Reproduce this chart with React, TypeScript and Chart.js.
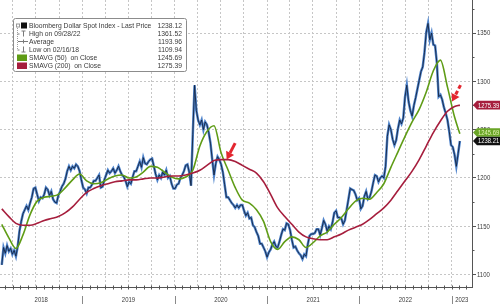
import React, { useEffect, useRef } from "react";
import { Chart, registerables } from "chart.js";

Chart.register(...registerables);

const FONT = '"Liberation Sans", Arial, sans-serif';
const DAY = 86400000;
const WEEK = 7 * DAY;
const SERIES_START = Date.UTC(2018, 1, 16);
const AXIS_MIN = Date.UTC(2018, 1, 9);
const AXIS_MAX = Date.UTC(2023, 2, 23);
const SMA_STEP_WEEKS = 4;
const Y_MIN = 1087.1;
const Y_MAX = 1384.2;

// Bloomberg Dollar Spot Index, weekly closes from 2018-02-16
const priceWeekly = [
  1110, 1128, 1122, 1130, 1124, 1127, 1121, 1125, 1119, 1129,
  1145, 1155, 1163, 1167, 1171, 1167, 1174, 1180, 1189, 1190,
  1183, 1176, 1180, 1179, 1183, 1190, 1188, 1182, 1186, 1178,
  1175, 1174, 1182, 1186, 1191, 1194, 1199, 1207, 1212, 1208,
  1212, 1210, 1214, 1212, 1207, 1198, 1190, 1188, 1184, 1190,
  1190, 1193, 1197, 1197, 1200, 1203, 1190, 1191, 1198, 1203,
  1208, 1205, 1207, 1210, 1205, 1208, 1212, 1207, 1203, 1201,
  1197, 1191, 1196, 1194, 1201, 1207, 1207, 1212, 1217, 1211,
  1221, 1215, 1214, 1217, 1219, 1220, 1212, 1204, 1198, 1203,
  1200, 1206, 1203, 1208, 1200, 1202, 1194, 1189, 1189, 1193,
  1194, 1200, 1203, 1207, 1213, 1214, 1206, 1192, 1245, 1296,
  1270, 1260, 1255, 1260, 1250, 1258, 1255, 1247, 1236, 1219,
  1203, 1215, 1222, 1219, 1214, 1206, 1193, 1180, 1180, 1177,
  1174, 1172, 1169, 1172, 1169, 1172, 1172, 1166, 1161, 1164,
  1158, 1159, 1151, 1149, 1144, 1140, 1132, 1132, 1128, 1124,
  1118, 1123, 1126, 1131, 1134, 1129, 1128, 1134, 1141, 1147,
  1146, 1153, 1152, 1146, 1136, 1128, 1129, 1125, 1122, 1120,
  1116, 1121, 1119, 1131, 1140, 1142, 1142, 1143, 1147, 1147,
  1141, 1148, 1156, 1152, 1145, 1150, 1147, 1154, 1164, 1166,
  1159, 1159, 1158, 1152, 1156, 1167, 1178, 1189, 1188, 1187,
  1183, 1177, 1179, 1168, 1171, 1181, 1186, 1178, 1180, 1186,
  1195, 1203, 1202, 1196, 1200, 1202, 1200, 1212, 1243, 1255,
  1250, 1240, 1234, 1239, 1251, 1260, 1256, 1262, 1284, 1296,
  1279, 1270, 1264, 1275, 1283, 1292, 1301, 1310, 1315, 1330,
  1351, 1360, 1343, 1350, 1338, 1337, 1319, 1284, 1286, 1281,
  1273, 1267, 1260, 1248, 1234, 1232, 1224, 1212, 1225, 1238.21,
];

// SMAVG (50) every 4 weeks, last value on the last price date
const sma50 = [
  1152, 1138, 1127, 1141, 1162, 1176, 1180, 1181, 1183, 1190,
  1198, 1204, 1197, 1194, 1195, 1199, 1202, 1203, 1200, 1201,
  1206, 1212, 1211, 1206, 1201, 1199, 1201, 1208, 1233, 1248,
  1254, 1226, 1208, 1190, 1177, 1174, 1167, 1155, 1134, 1126,
  1134, 1139, 1136, 1128, 1133, 1140, 1144, 1152, 1159, 1168,
  1176, 1179, 1178, 1185, 1194, 1211, 1227, 1243, 1258, 1271,
  1289, 1311, 1322, 1294, 1263, 1245.69,
];

// SMAVG (200) every 4 weeks, last value on the last price date
const sma200 = [
  1168, 1160, 1153, 1151, 1151, 1153, 1156, 1158, 1160, 1164,
  1170, 1178, 1185, 1189, 1192, 1194, 1196, 1197, 1198, 1198,
  1199, 1200, 1200, 1201, 1202, 1202, 1203, 1205, 1208, 1213,
  1218, 1219, 1219, 1217, 1213, 1209, 1205, 1196, 1183, 1169,
  1160, 1152, 1144, 1139, 1137, 1136, 1136, 1139, 1142, 1146,
  1149, 1152, 1157, 1163, 1169, 1177, 1187, 1197, 1207, 1219,
  1233, 1247, 1259, 1269, 1274, 1275.39,
];

const yTicks = [1100, 1150, 1200, 1250, 1300, 1350];
const yMinorTicks = [1125, 1175, 1225, 1275, 1325, 1375];
const years = [2018, 2019, 2020, 2021, 2022, 2023];

const legendRows = [
  { label: "Bloomberg Dollar Spot Index - Last Price", value: "1238.12", icon: "price" },
  { label: "High on 09/28/22", value: "1361.52", icon: "high" },
  { label: "Average", value: "1193.96", icon: "avg" },
  { label: "Low on 02/16/18", value: "1109.94", icon: "low" },
  { label: "SMAVG (50)  on Close", value: "1245.69", icon: "sma50" },
  { label: "SMAVG (200)  on Close", value: "1275.39", icon: "sma200" },
];

const arrowNotes = [
  { date: Date.UTC(2020, 6, 25), value: 1219, dashed: false },
  { date: Date.UTC(2023, 0, 3), value: 1279, dashed: true },
];

const PRICE_BLUE = "#4f84cc";
const PRICE_DARK = "#142542";
const GREEN = "#5f9c16";
const RED = "#a61e3d";
const ARROW = "#e3262f";
const GRID = "#c6c6c6";
const AXIS = "#555555";
const TEXT = "#3a3a3a";

function smaPoints(arr: number[]) {
  const lastWeek = priceWeekly.length - 1;
  return arr.map((v, j) => ({
    x: SERIES_START + (j < arr.length - 1 ? j * SMA_STEP_WEEKS : lastWeek) * WEEK,
    y: v,
  }));
}

function narrowText(
  ctx: CanvasRenderingContext2D,
  text: string,
  x: number,
  y: number,
  align: CanvasTextAlign,
  sx: number
) {
  ctx.save();
  ctx.translate(x, y);
  ctx.scale(sx, 1);
  ctx.textAlign = align;
  ctx.fillText(text, 0, 0);
  ctx.restore();
}

function drawArrow(ctx: CanvasRenderingContext2D, tx: number, ty: number, dashed: boolean) {
  const sx = tx + 8.5;
  const sy = ty - 16.5;
  const ang = Math.atan2(ty - sy, tx - sx);
  const headLen = 7.5;
  const headW = 4.5;
  const bx = tx - headLen * Math.cos(ang);
  const by = ty - headLen * Math.sin(ang);
  ctx.save();
  ctx.strokeStyle = ARROW;
  ctx.fillStyle = ARROW;
  ctx.lineWidth = 3;
  ctx.setLineDash(dashed ? [4, 2.5] : []);
  ctx.beginPath();
  ctx.moveTo(sx, sy);
  ctx.lineTo(bx, by);
  ctx.stroke();
  ctx.setLineDash([]);
  ctx.beginPath();
  ctx.moveTo(tx, ty);
  ctx.lineTo(bx + headW * Math.sin(ang), by - headW * Math.cos(ang));
  ctx.lineTo(bx - headW * Math.sin(ang), by + headW * Math.cos(ang));
  ctx.closePath();
  ctx.fill();
  ctx.restore();
}

const decorPlugin = {
  id: "decor",
  afterDraw(chart: any) {
    const { ctx, chartArea: ca, scales } = chart;
    const xs = scales.x;
    const ys = scales.y;
    ctx.save();

    // bottom axis: monthly ticks
    ctx.strokeStyle = AXIS;
    ctx.lineWidth = 1;
    for (const yr of years) {
      for (let m = 0; m < 12; m++) {
        const t = Date.UTC(yr, m, 1);
        if (t < xs.min || t > xs.max) continue;
        const px = Math.round(xs.getPixelForValue(t)) + 0.5;
        ctx.beginPath();
        ctx.moveTo(px, ca.bottom - 1.5);
        ctx.lineTo(px, ca.bottom + 2.5);
        ctx.stroke();
      }
    }
    // year separators and labels
    ctx.font = `7px ${FONT}`;
    ctx.fillStyle = TEXT;
    ctx.textBaseline = "middle";
    for (const yr of years) {
      const t0 = Date.UTC(yr, 0, 1);
      const t1 = Date.UTC(yr + 1, 0, 1);
      const p0 = xs.getPixelForValue(t0);
      const p1 = xs.getPixelForValue(t1);
      if (t0 >= xs.min && t0 <= xs.max) {
        const px = Math.round(p0) + 0.5;
        ctx.strokeStyle = "#8a8a8a";
        ctx.beginPath();
        ctx.moveTo(px, ca.bottom + 9);
        ctx.lineTo(px, ca.bottom + 17);
        ctx.stroke();
      }
      const a = Math.max(p0, ca.left);
      const b = Math.min(p1, ca.right);
      if (b > a) narrowText(ctx, String(yr), (a + b) / 2, ca.bottom + 13.5, "center", 0.85);
    }

    // right axis labels and minor ticks
    ctx.font = `7px ${FONT}`;
    ctx.fillStyle = TEXT;
    for (const tk of ys.ticks) {
      const py = ys.getPixelForValue(tk.value);
      narrowText(ctx, String(tk.value), ca.right + 5, py + 0.5, "left", 0.85);
    }
    ctx.strokeStyle = AXIS;
    for (const v of yMinorTicks) {
      if (v < ys.min || v > ys.max) continue;
      const py = Math.round(ys.getPixelForValue(v)) + 0.5;
      ctx.beginPath();
      ctx.moveTo(ca.right, py);
      ctx.lineTo(ca.right + 2.5, py);
      ctx.stroke();
    }

    // value tags on the right axis
    const last = priceWeekly.length - 1;
    const tags = [
      { value: sma200[sma200.length - 1], bg: RED, fg: "#ffffff", fixed: false },
      { value: sma50[sma50.length - 1], bg: "#6aa526", fg: "#e4f4b4", fixed: false },
      { value: priceWeekly[last], bg: "#111111", fg: "#ffffff", fixed: true },
    ].map((t) => ({ ...t, y: ys.getPixelForValue(t.value) }));
    const fixedTag = tags.find((t) => t.fixed)!;
    const H = 8.6;
    for (const t of tags) {
      if (t.fixed) continue;
      const d = t.y - fixedTag.y;
      if (Math.abs(d) < H) t.y = fixedTag.y + (d < 0 ? -H : H);
    }
    ctx.font = `7px ${FONT}`;
    ctx.textBaseline = "middle";
    for (const t of tags) {
      const x0 = ca.right + 1;
      ctx.fillStyle = t.bg;
      ctx.beginPath();
      ctx.moveTo(x0, t.y);
      ctx.lineTo(x0 + 4, t.y - H / 2);
      ctx.lineTo(500, t.y - H / 2);
      ctx.lineTo(500, t.y + H / 2);
      ctx.lineTo(x0 + 4, t.y + H / 2);
      ctx.closePath();
      ctx.fill();
      ctx.fillStyle = t.fg;
      narrowText(ctx, t.value.toFixed(2), x0 + 5, t.y + 0.5, "left", 0.84);
    }

    // annotation arrows
    ctx.save();
    ctx.beginPath();
    ctx.rect(ca.left, ca.top, ca.right - ca.left, ca.bottom - ca.top);
    ctx.clip();
    for (const a of arrowNotes) {
      drawArrow(ctx, xs.getPixelForValue(a.date), ys.getPixelForValue(a.value), a.dashed);
    }
    ctx.restore();

    // legend box
    const bx = 13.5, by = 18.5, bw = 173, bh = 53;
    ctx.fillStyle = "#ffffff";
    ctx.strokeStyle = "#8c8c8c";
    ctx.lineWidth = 1;
    ctx.beginPath();
    ctx.roundRect(bx, by, bw, bh, 2);
    ctx.fill();
    ctx.stroke();
    ctx.font = `7.5px ${FONT}`;
    ctx.textBaseline = "middle";
    const icon = "#7a7a7a";
    ctx.strokeStyle = "#a0a0a0";
    ctx.setLineDash([1, 1]);
    ctx.beginPath();
    ctx.moveTo(17.5, 28);
    ctx.lineTo(17.5, 50);
    ctx.stroke();
    ctx.setLineDash([]);
    legendRows.forEach((row, i) => {
      const cy = 25.5 + i * 8;
      ctx.lineWidth = 1;
      if (row.icon === "price") {
        ctx.strokeStyle = "#999";
        ctx.strokeRect(16.5, cy - 1.5, 3, 3);
        ctx.fillStyle = "#111";
        ctx.fillRect(21, cy - 3, 6, 6);
      } else if (row.icon === "high") {
        ctx.strokeStyle = icon;
        ctx.beginPath();
        ctx.moveTo(21.5, cy - 2.5); ctx.lineTo(25.5, cy - 2.5);
        ctx.moveTo(23.5, cy - 2.5); ctx.lineTo(23.5, cy + 3);
        ctx.moveTo(17.5, cy + 0.5); ctx.lineTo(19.5, cy + 0.5);
        ctx.stroke();
      } else if (row.icon === "avg") {
        ctx.strokeStyle = icon;
        ctx.beginPath();
        ctx.moveTo(18, cy); ctx.lineTo(28, cy);
        ctx.moveTo(23.5, cy - 2); ctx.lineTo(23.5, cy + 2);
        ctx.stroke();
      } else if (row.icon === "low") {
        ctx.strokeStyle = icon;
        ctx.beginPath();
        ctx.moveTo(23.5, cy - 3); ctx.lineTo(23.5, cy + 2.5);
        ctx.moveTo(21.5, cy + 2.5); ctx.lineTo(25.5, cy + 2.5);
        ctx.moveTo(17.5, cy + 0.5); ctx.lineTo(19.5, cy + 0.5);
        ctx.stroke();
      } else {
        ctx.fillStyle = row.icon === "sma50" ? GREEN : RED;
        ctx.fillRect(17, cy - 3, 10, 6.5);
      }
      ctx.fillStyle = TEXT;
      narrowText(ctx, row.label, 29, cy + 0.5, "left", 0.9);
      narrowText(ctx, row.value, 182, cy + 0.5, "right", 0.9);
    });

    ctx.restore();
  },
};

export default function App() {
  const canvasRef = useRef<HTMLCanvasElement | null>(null);

  useEffect(() => {
    if (!canvasRef.current) return;
    const pricePts = priceWeekly.map((v, i) => ({ x: SERIES_START + i * WEEK, y: v }));
    const quarterTicks: { value: number }[] = [];
    for (const yr of years) {
      for (const m of [0, 3, 6, 9]) {
        const t = Date.UTC(yr, m, 1);
        if (t > AXIS_MIN && t < AXIS_MAX) quarterTicks.push({ value: t });
      }
    }
    const chart = new Chart(canvasRef.current, {
      type: "line",
      data: {
        datasets: [
          {
            data: smaPoints(sma200),
            borderColor: RED,
            borderWidth: 1.6,
            pointRadius: 0,
            cubicInterpolationMode: "monotone",
          },
          {
            data: smaPoints(sma50),
            borderColor: GREEN,
            borderWidth: 1.6,
            pointRadius: 0,
            cubicInterpolationMode: "monotone",
          },
          {
            data: pricePts,
            borderColor: PRICE_DARK,
            borderWidth: 0.9,
            pointRadius: 0,
            tension: 0,
          },
          {
            data: pricePts,
            borderColor: PRICE_BLUE,
            borderWidth: 2.5,
            pointRadius: 0,
            tension: 0,
          },
        ],
      },
      options: {
        responsive: false,
        animation: false,
        devicePixelRatio: 1,
        events: [],
        layout: { padding: 0 },
        plugins: { legend: { display: false }, tooltip: { enabled: false }, title: { display: false } },
        scales: {
          x: {
            type: "linear",
            position: "bottom",
            min: AXIS_MIN,
            max: AXIS_MAX,
            afterBuildTicks: (s: any) => {
              s.ticks = quarterTicks.map((t) => ({ ...t }));
            },
            afterFit: (s: any) => {
              s.height = 17;
              s.paddingLeft = 0;
              s.paddingRight = 0;
            },
            ticks: { display: false },
            grid: { color: GRID, lineWidth: 1, drawTicks: false },
            border: { display: true, color: AXIS, width: 1, dash: [2, 2] },
          },
          y: {
            type: "linear",
            position: "right",
            min: Y_MIN,
            max: Y_MAX,
            afterBuildTicks: (s: any) => {
              s.ticks = yTicks.map((v) => ({ value: v }));
            },
            afterFit: (s: any) => {
              s.width = 28;
              s.paddingTop = 0;
              s.paddingBottom = 0;
            },
            ticks: { display: false },
            grid: { color: GRID, lineWidth: 1, drawTicks: true, tickLength: 4, tickColor: AXIS },
            border: { display: true, color: AXIS, width: 1, dash: [2, 2] },
          },
        },
      },
      plugins: [decorPlugin],
    } as any);
    return () => chart.destroy();
  }, []);

  return (
    <div style={{ position: "absolute", left: 0, top: 0, width: 500, height: 304, background: "#fff" }}>
      <canvas ref={canvasRef} width={500} height={304} style={{ display: "block", width: 500, height: 304 }} />
    </div>
  );
}
